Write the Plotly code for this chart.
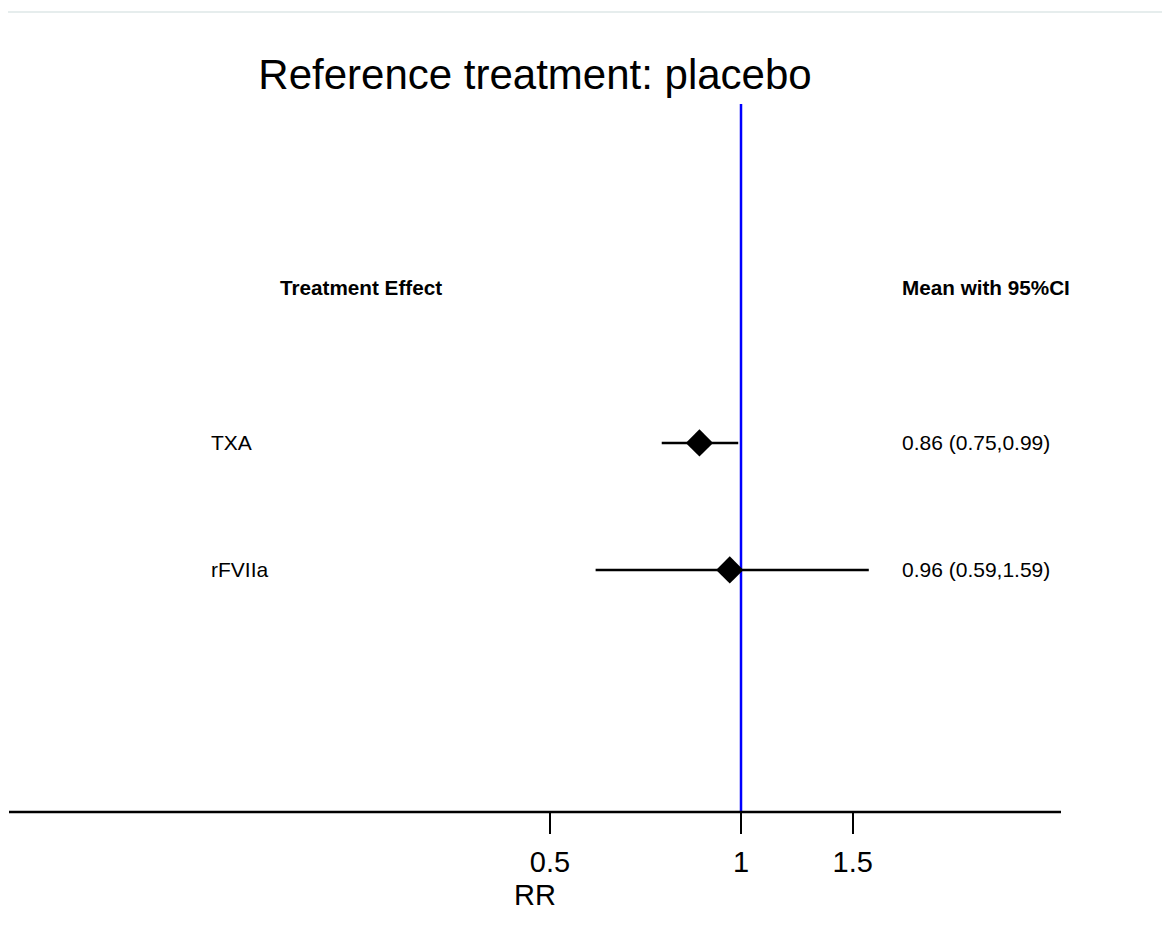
import plotly.graph_objects as go

# ---- data ----
treatments = ["TXA", "rFVIIa"]
means = [0.86, 0.96]
lower = [0.75, 0.59]
upper = [0.99, 1.59]
ci_labels = ["0.86 (0.75,0.99)", "0.96 (0.59,1.59)"]
tick_vals = [0.5, 1, 1.5]
tick_text = ["0.5", "1", "1.5"]
reference_value = 1

FONT = "Liberation Sans, Arial, sans-serif"
W, H = 1170, 944
OFF = 8  # page body margin
PPD = 634.5  # pixels per decade
X_REF_PX = 741 - OFF
TOP = 104 - OFF
AXIS_Y = 812 - OFF
PH = AXIS_Y - TOP
APAD = 2  # annotation internal padding

rows = list(range(1, len(treatments) + 1))
y_range = [3.906, -1.669]
header_y = -0.228


def px(x):
    return (x - OFF) / W


def py(y):
    return (AXIS_Y - (y - OFF)) / PH


fig = go.Figure()

# reference vertical line
fig.add_trace(go.Scatter(
    x=[reference_value, reference_value], y=y_range, mode="lines",
    line=dict(color="#0000ff", width=2.5), hoverinfo="skip", showlegend=False,
    cliponaxis=False))

# CI lines
for r, lo, hi in zip(rows, lower, upper):
    fig.add_trace(go.Scatter(
        x=[lo, hi], y=[r, r], mode="lines",
        line=dict(color="black", width=2.5), hoverinfo="skip", showlegend=False))

# point estimates
fig.add_trace(go.Scatter(
    x=means, y=rows, mode="markers",
    marker=dict(symbol="diamond", size=21, color="black"),
    showlegend=False))

ann = []
for r, name, lab in zip(rows, treatments, ci_labels):
    ann.append(dict(x=px(211 - APAD), xref="paper", y=r, yref="y", text=name,
                    showarrow=False, xanchor="left", yanchor="middle",
                    font=dict(family=FONT, size=21, color="black")))
    ann.append(dict(x=px(902 - APAD), xref="paper", y=r, yref="y", text=lab,
                    showarrow=False, xanchor="left", yanchor="middle",
                    font=dict(family=FONT, size=21, color="black")))

ann.append(dict(x=px(280 - APAD), xref="paper", y=header_y, yref="y",
                text="<b>Treatment Effect</b>", showarrow=False,
                xanchor="left", yanchor="middle",
                font=dict(family=FONT, size=20.7, color="black")))
ann.append(dict(x=px(902 - APAD), xref="paper", y=header_y, yref="y",
                text="<b>Mean with 95%CI</b>", showarrow=False,
                xanchor="left", yanchor="middle",
                font=dict(family=FONT, size=20.7, color="black")))
# axis title
ann.append(dict(x=px(534.5), xref="paper", y=py(895), yref="paper",
                text="RR", showarrow=False, xanchor="center", yanchor="middle",
                font=dict(family=FONT, size=29, color="black")))

shapes = [
    # axis line
    dict(type="line", xref="paper", yref="paper", x0=px(9), x1=px(1061),
         y0=0, y1=0, line=dict(color="black", width=2.5)),
    # faint top border
    dict(type="line", xref="paper", yref="paper", x0=0, x1=1,
         y0=py(12), y1=py(12), line=dict(color="#e6eded", width=2)),
]

fig.update_layout(
    width=W, height=H,
    margin=dict(l=0, r=0, t=TOP, b=H - AXIS_Y, pad=0),
    paper_bgcolor="white", plot_bgcolor="white",
    title=dict(text="Reference treatment: placebo", x=px(535), xanchor="center",
               y=1 - (74 - OFF) / H, yanchor="middle",
               font=dict(family=FONT, size=42, color="black")),
    xaxis=dict(type="log", range=[-X_REF_PX / PPD, (W - X_REF_PX) / PPD],
               tickvals=tick_vals, ticktext=tick_text,
               ticks="outside", ticklen=21, tickwidth=2, tickcolor="black",
               ticklabelstandoff=3,
               tickfont=dict(family=FONT, size=29, color="black"),
               showgrid=False, zeroline=False, showline=False, fixedrange=True),
    yaxis=dict(range=y_range, visible=False, showgrid=False, zeroline=False,
               fixedrange=True),
    annotations=ann, shapes=shapes,
    showlegend=False,
)

fig.write_html("out.html")
